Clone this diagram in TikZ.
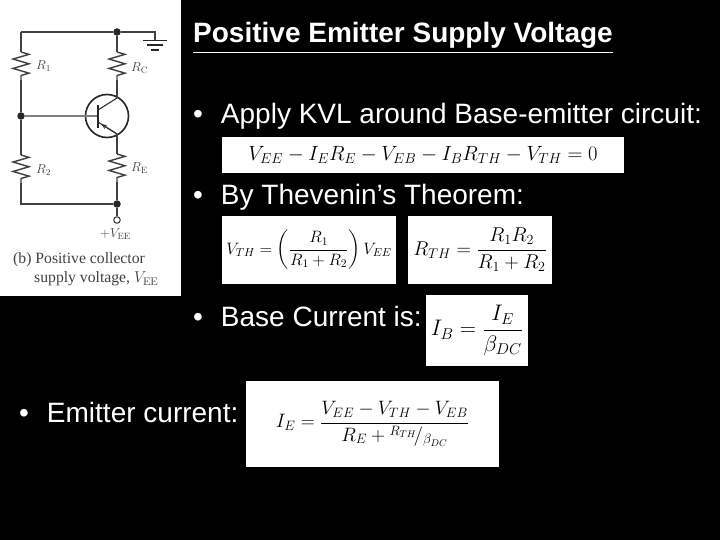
\documentclass[tikz,border=0pt]{standalone}
\usepackage{fix-cm}
\usepackage{amsmath}
\usepackage{amssymb}
\usepackage[no-math]{fontspec}
\setmainfont{Liberation Sans}
\newfontfamily\capfont{Liberation Serif}
\usetikzlibrary{decorations.pathmorphing}
\usetikzlibrary{arrows.meta}
\tikzset{
  wire/.style={draw=black!75, line width=1.2pt},
  res/.style={wire, line width=1.4pt, decorate, decoration={zigzag, segment length=9.4pt, amplitude=8pt}},
  jdot/.style={circle, fill=black!85, inner sep=0pt, minimum size=7.5pt},
  slidetext/.style={white, anchor=base west, inner sep=0pt, font=\fontsize{28}{32}\selectfont},
  eqbox/.style={fill=white, inner sep=0pt, anchor=center},
  partlabel/.style={anchor=west, inner sep=0pt, black!75, font=\fontsize{13}{15}\selectfont},
  caplabel/.style={anchor=west, inner sep=0pt, black!75, font=\capfont\fontsize{15.7}{18}\selectfont},
}
\begin{document}
\begin{tikzpicture}[x=1pt, y=-1pt]
        \useasboundingbox (0,0) rectangle (720,540);
        \fill[black] (0,0) rectangle (720,540);
        % Circuit panel
        \fill[white] (0,0) rectangle (181,296);
        \node[jdot] (topj) at (117,32) {};
        \node[jdot] (basej) at (21,116) {};
        \node[jdot] (botj) at (117,204) {};
        \node[circle, draw=black!80, fill=white, line width=1pt, inner sep=0pt, minimum size=6.5pt] (vee) at (117,220) {};
        \node[circle, draw=black!85, line width=1.6pt, inner sep=0pt, minimum size=43pt] (qone) at (107,116) {};
        \coordinate (topl) at (21,32);
        \coordinate (botl) at (21,204);
        \coordinate (gnd) at (155,32);
        \coordinate (gndb) at (155,40);
        \coordinate (rone1) at (21,52);
        \coordinate (rone2) at (21,80);
        \coordinate (rtwo1) at (21,155);
        \coordinate (rtwo2) at (21,183);
        \coordinate (rc1) at (117,52);
        \coordinate (rc2) at (117,80);
        \coordinate (re1) at (117,154);
        \coordinate (re2) at (117,182);
        \coordinate (cole) at (117,98);
        \coordinate (emit) at (117,134);
        \coordinate (qb) at (98,116);
        \coordinate (qc) at (98,110);
        \coordinate (qe) at (98,122);
        % Wires
        \draw[wire] (topl) -- (topj) -- (gnd) -- (gndb);
        \draw[wire] (topl) -- (rone1);
        \draw[res] (rone1) -- (rone2);
        \draw[wire] (rone2) -- (basej) -- (rtwo1);
        \draw[res] (rtwo1) -- (rtwo2);
        \draw[wire] (rtwo2) -- (botl) -- (botj) -- (vee);
        \draw[wire] (topj) -- (rc1);
        \draw[res] (rc1) -- (rc2);
        \draw[wire] (rc2) -- (cole);
        \draw[wire] (emit) -- (re1);
        \draw[res] (re1) -- (re2);
        \draw[wire] (re2) -- (botj);
        % Ground
        \draw[black!85, line width=1.4pt] (143,40.5) -- (167,40.5) (147,45) -- (163,45);
        \draw[black!85, line width=1.8pt] (151,50) -- (159,50);
        % Transistor
        \draw[black!50, line width=1.3pt] (basej) -- (qb);
        \draw[black!85, line width=2.6pt] (98,105) -- (98,128);
        \draw[black!80, line width=1.1pt] (qc) -- (cole);
        \draw[black!80, line width=1.1pt] (emit) -- (qe);
        \draw[-{Stealth[length=6pt]}, black!80, line width=1.1pt] (emit) -- (101,124);
        % Part labels
        \node[partlabel] at (36,66) {$R_1$};
        \node[partlabel] at (131,68) {$R_{\mathrm{C}}$};
        \node[partlabel] at (36,170) {$R_2$};
        \node[partlabel] at (131,168) {$R_{\mathrm{E}}$};
        \node[partlabel] at (100,234) {$+V_{\mathrm{EE}}$};
        \node[caplabel] at (13,260) {(b) Positive collector};
        \node[caplabel] at (34,279) {supply voltage, $V_{\mathrm{EE}}$};
        % Slide text
        \node[slidetext, font=\bfseries\fontsize{28}{32}\selectfont] at (193,43) {\underline{Positive Emitter Supply Voltage}};
        \node[slidetext] at (193,124) {•\hspace{18pt}Apply KVL around Base-emitter circuit:};
        \node[slidetext] at (193,205) {•\hspace{18pt}By Thevenin’s Theorem:};
        \node[slidetext] at (193,326) {•\hspace{18pt}Base Current is:};
        \node[slidetext] at (19,422) {•\hspace{18pt}Emitter current:};
        % Equations
        \node[eqbox, minimum width=402pt, minimum height=36pt] (eqkvl) at (423,155) {\fontsize{20.6}{24}\selectfont $V_{EE}-I_ER_E-V_{EB}-I_BR_{TH}-V_{TH}=0$};
        \node[eqbox, minimum width=174pt, minimum height=68pt] (eqvth) at (309,250) {\fontsize{16.5}{20}\selectfont $V_{TH}=\left(\dfrac{R_1}{R_1+R_2}\right)V_{EE}$};
        \node[eqbox, minimum width=144pt, minimum height=68pt] (eqrth) at (480,250) {\fontsize{20}{24}\selectfont $R_{TH}=\dfrac{R_1R_2}{R_1+R_2}$};
        \node[eqbox, minimum width=102pt, minimum height=71pt] (eqib) at (477,330.5) {\fontsize{22.5}{26}\selectfont $I_B=\dfrac{I_E}{\beta_{DC}}$};
        \node[eqbox, minimum width=253pt, minimum height=86pt] (eqie) at (372.5,424) {\fontsize{19.4}{23}\selectfont $I_E=\dfrac{V_{EE}-V_{TH}-V_{EB}}{R_E+{}^{R_{TH}}\!/_{\beta_{DC}}}$};
    \end{tikzpicture}
\end{document}
